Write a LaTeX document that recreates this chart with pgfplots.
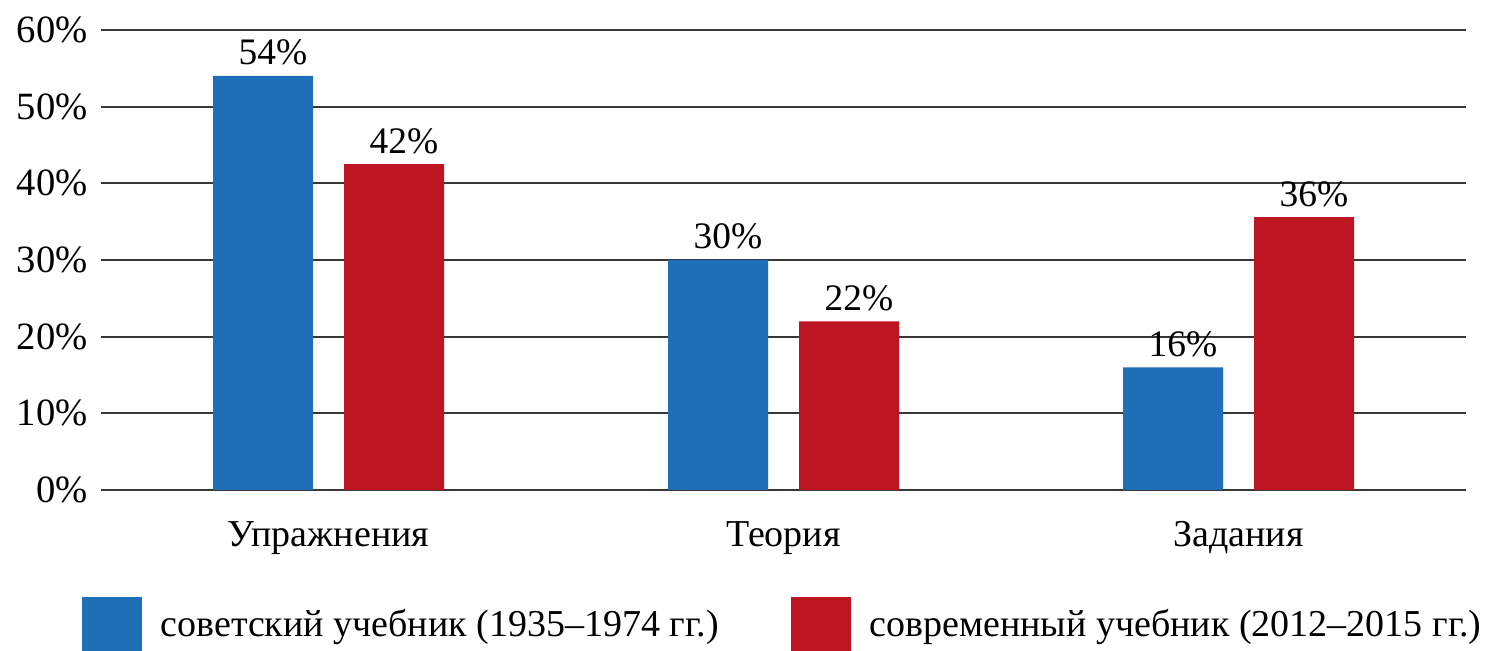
\documentclass[border=0pt]{standalone}
\usepackage{pgfplots}
\pgfplotsset{compat=1.18}
\usepackage{fontspec}
\setmainfont{Liberation Serif}
\definecolor{sovblue}{RGB}{30,111,184}
\definecolor{modred}{RGB}{189,22,34}
\begin{document}
\begin{tikzpicture}
\begin{axis}[
  scale only axis, width=682.5pt, height=230pt,
  ybar=15.5pt, bar width=50pt,
  xmin=-0.5, xmax=2.5, ymin=0, ymax=60,
  xtick={0,1,2}, xticklabels={Упражнения,Теория,Задания},
  ytick={0,10,...,60}, yticklabels={0\%,10\%,20\%,30\%,40\%,50\%,60\%},
  major tick length=0pt,
  axis line style={draw=none},
  ymajorgrids, major grid style={draw=black!78, line width=1pt},
  xticklabel style={font=\fontsize{19}{22}\selectfont, anchor=base, yshift=-28.5pt},
  yticklabel style={font=\fontsize{19.3}{22}\selectfont, anchor=east, inner sep=0pt, xshift=-6.5pt},
  nodes near coords, point meta=explicit symbolic,
  every node near coord/.append style={font=\fontsize{18.7}{21}\selectfont, anchor=base, yshift=5.5pt, xshift=5pt, inner sep=0pt},
  legend columns=2,
  legend style={draw=none, at={(0.5,0)}, anchor=center, yshift=-67pt,
    font=\fontsize{19}{22}\selectfont,
    /tikz/every even column/.append style={column sep=34pt},
    /tikz/every odd column/.append style={column sep=7.5pt}},
  legend image code/.code={\fill[#1] (0pt,-13.5pt) rectangle (30pt,13.5pt);},
]
\addplot[fill=sovblue, draw=none] coordinates {(0,54) [54\%] (1,30) [30\%] (2,16) [16\%]};
\addplot[fill=modred, draw=none] coordinates {(0,42.5) [42\%] (1,22) [22\%] (2,35.6) [36\%]};
\legend{советский учебник (1935–1974 гг.), современный учебник (2012–2015 гг.)}
\coordinate (sw) at (rel axis cs:0,0);
\coordinate (ne) at (rel axis cs:1,1);
\end{axis}
\pgfresetboundingbox
\path ([shift={(-50.5pt,-80.5pt)}]sw) rectangle ([shift={(16.5pt,15pt)}]ne);
\end{tikzpicture}
\end{document}
